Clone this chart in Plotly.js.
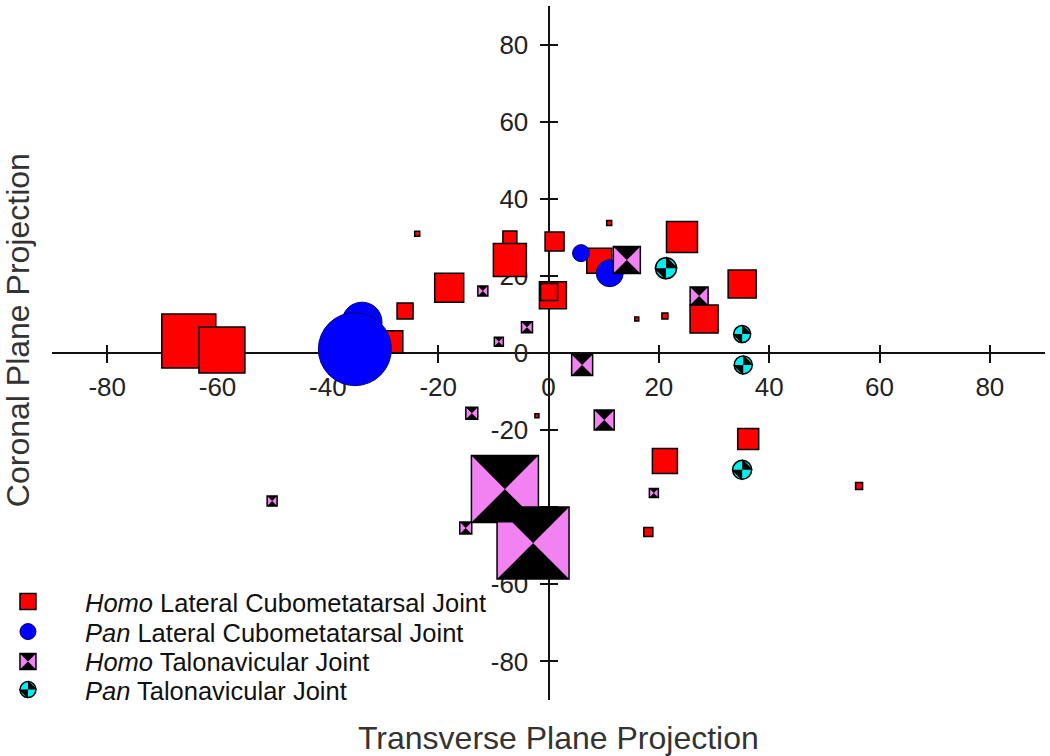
<!DOCTYPE html>
<html>
<head>
<meta charset="utf-8">
<script src="https://cdn.plot.ly/plotly-3.0.1.min.js"></script>
<style>
  html, body { margin: 0; padding: 0; background: #fff; }
  #chart { width: 1050px; height: 756px; }
</style>
</head>
<body>
<div id="chart"></div>
<script>
// Homo lateral cubometatarsal joint (red squares)
const homoLcmX    = [-65.2, -59.2, -28.4, -26.0, -18.0, -7.0, -7.0, 1.1, 0.8, 0.1, 9.2, 24.2, 35.1, 28.2, 36.2, 21.1, 18.1, 56.3, -23.8, 11.0, 16.0, 21.1, -2.1];
const homoLcmY    = [3.1, 0.8, 2.9, 10.9, 16.9, 29.8, 24.1, 28.9, 15.0, 15.8, 23.9, 30.1, 17.9, 8.8, -22.3, -28.0, -46.4, -34.5, 30.9, 33.7, 8.8, 9.6, -16.3];
const homoLcmSize = [54, 46, 22, 16, 29, 14, 33, 19, 27, 17, 25, 31, 28, 28, 21, 25, 9, 7, 5, 5, 4, 6, 4];

// Pan lateral cubometatarsal joint (blue circles)
const panLcmX    = [-33.8, -35.1, 5.9, 11.1];
const panLcmY    = [8.0, 1.0, 25.9, 20.7];
const panLcmSize = [40, 73, 17, 27];

// Homo talonavicular joint (pink / black hourglass squares)
const homoTnX    = [14.2, 6.1, 27.3, 10.1, -7.9, -2.8, -15.0, -13.9, -50.1, -11.9, -3.9, -9.0, 19.1];
const homoTnY    = [24.1, -3.1, 14.8, -17.4, -35.3, -49.3, -45.4, -15.6, -38.4, 16.1, 6.7, 2.9, -36.3];
const homoTnSize = [27, 21, 18, 20, 67, 72, 12, 12, 10, 10, 11, 9, 9];

// Pan talonavicular joint (cyan / black quartered circles)
const panTnX    = [21.3, 35.1, 35.3, 35.1];
const panTnY    = [22.0, 4.9, -3.1, -30.3];
const panTnSize = [21, 17, 18, 19];

const tickValues = [-80, -60, -40, -20, 0, 20, 40, 60, 80];
const tickLabels = ["-80", "-60", "-40", "-20", "0", "20", "40", "60", "80"];

const FONT = "Liberation Sans, Arial, sans-serif";
const NAMES = {
    homoLcm: "<i>Homo</i> Lateral Cubometatarsal Joint",
    panLcm:  "<i>Pan</i> Lateral Cubometatarsal Joint",
    homoTn:  "<i>Homo</i> Talonavicular Joint",
    panTn:   "<i>Pan</i> Talonavicular Joint"
};

const traces = [
    {
        name: NAMES.homoLcm, legend: "legend",
        x: homoLcmX, y: homoLcmY, type: "scatter", mode: "markers",
        marker: { symbol: "square", size: homoLcmSize, opacity: 1, color: "#ff0000", line: { color: "#000", width: 1.5 } }
    },
    {
        name: NAMES.panLcm, legend: "legend2",
        x: panLcmX, y: panLcmY, type: "scatter", mode: "markers",
        marker: { symbol: "circle", size: panLcmSize, opacity: 1, color: "#0000ff", line: { color: "#000070", width: 1 } }
    },
    {
        name: NAMES.homoTn, legend: "legend3",
        x: homoTnX, y: homoTnY, type: "scatter", mode: "markers",
        marker: { symbol: "square", size: homoTnSize, opacity: 1, color: "#f282f2", line: { color: "#000", width: 1.5 } }
    },
    {   // black hourglass on top of the pink squares
        name: NAMES.homoTn, showlegend: false,
        x: homoTnX, y: homoTnY, type: "scatter", mode: "markers",
        marker: { symbol: "hourglass", size: homoTnSize, opacity: 1, color: "#000", line: { width: 0 } }
    },
    {
        name: NAMES.panTn, legend: "legend4",
        x: panTnX, y: panTnY, type: "scatter", mode: "markers",
        marker: { symbol: "circle", size: panTnSize, opacity: 1, color: "#00f0f0", line: { color: "#000", width: 1.5 } }
    },
    {   // black quarters (rotated bowtie) on top of the cyan circles
        name: NAMES.panTn, showlegend: false,
        x: panTnX, y: panTnY, type: "scatter", mode: "markers",
        marker: { symbol: "bowtie", angle: -45, size: panTnSize.map(s => s * 0.8), opacity: 1, color: "#000", line: { width: 0 } }
    },
    // legend-only overlays so the legend symbols match the composite markers
    {
        name: NAMES.homoTn, legend: "legend5",
        x: [null], y: [null], type: "scatter", mode: "markers",
        marker: { symbol: "hourglass", size: 16, color: "#000", line: { width: 0 } }
    },
    {
        name: NAMES.panTn, legend: "legend6",
        x: [null], y: [null], type: "scatter", mode: "markers",
        marker: { symbol: "bowtie", angle: -45, size: 13, color: "#000", line: { width: 0 } }
    }
];

const axisCommon = {
    range: [-90, 90],
    anchor: "free",
    tickmode: "array",
    tickvals: tickValues,
    ticktext: tickLabels,
    ticks: "outside",
    ticklen: 18,
    tickwidth: 2,
    tickcolor: "#111",
    ticklabelstandoff: 6,
    tickfont: { size: 26, color: "#222", family: FONT },
    showline: false,
    showgrid: false,
    zeroline: true,
    zerolinecolor: "#111",
    zerolinewidth: 2,
    layer: "below traces",
    fixedrange: true
};

const legendBase = {
    xref: "paper", yref: "paper",
    x: -0.0816, xanchor: "left", yanchor: "middle",
    bgcolor: "rgba(0,0,0,0)", borderwidth: 0,
    itemwidth: 104,
    font: { family: FONT, size: 25.5, color: "#111" }
};
const clearFont = { family: FONT, size: 25.5, color: "rgba(0,0,0,0)" };

const layout = {
    width: 1050,
    height: 756,
    margin: { l: 52, r: 5, t: 6, b: 56, autoexpand: false },
    paper_bgcolor: "#fff",
    plot_bgcolor: "#fff",
    font: { family: FONT, color: "#222" },
    showlegend: true,
    xaxis: { ...axisCommon, position: 0.5 + 9 / 694, ticklabelstandoff: 2 },
    yaxis: { ...axisCommon, position: 0.5 + 9 / 993 },
    legend:  { ...legendBase, y: 0.1412 },
    legend2: { ...legendBase, y: 0.0980 },
    legend3: { ...legendBase, y: 0.0548 },
    legend4: { ...legendBase, y: 0.0144 },
    legend5: { ...legendBase, y: 0.0548, font: clearFont },
    legend6: { ...legendBase, y: 0.0144, font: clearFont },
    annotations: [
        {
            text: "Transverse Plane Projection",
            xref: "paper", yref: "paper", x: 0.5096, y: -0.0548,
            xanchor: "center", yanchor: "middle", showarrow: false,
            font: { family: FONT, size: 32, color: "#333" }
        },
        {
            text: "Coronal Plane Projection",
            xref: "paper", yref: "paper", x: -0.0342, y: 0.533,
            xanchor: "center", yanchor: "middle", showarrow: false, textangle: -90,
            font: { family: FONT, size: 32, color: "#333" }
        }
    ]
};

Plotly.newPlot("chart", traces, layout, { staticPlot: true, displayModeBar: false });
</script>
</body>
</html>
